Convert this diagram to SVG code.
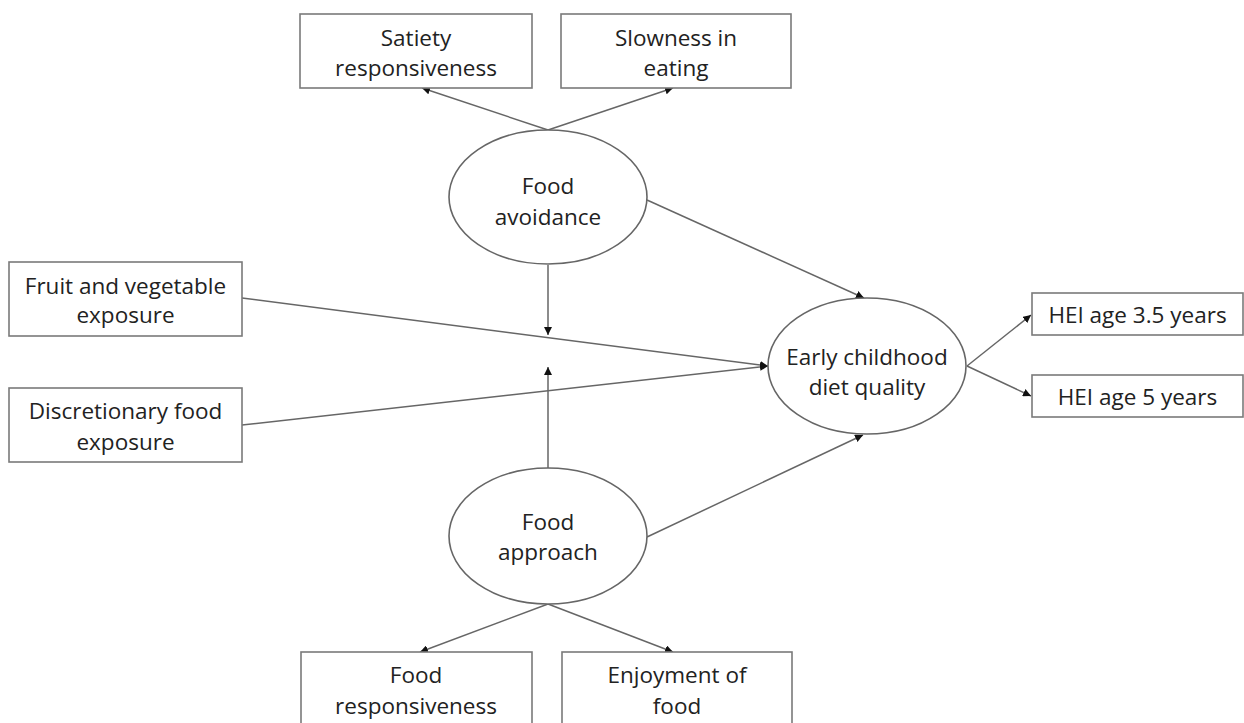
<svg xmlns="http://www.w3.org/2000/svg" width="1244" height="723" viewBox="0 0 1244 723">
<defs>
<style>
.box{fill:#fff;stroke:#7a7a7a;stroke-width:1.6}
.ell{fill:#fff;stroke:#666;stroke-width:1.6}
.t{font-family:"Open Sans","Noto Sans",sans-serif;font-size:22.5px;fill:#222;text-anchor:middle;dominant-baseline:central}
.c{stroke:#666;stroke-width:1.5;fill:none;marker-end:url(#ah)}
</style>
<marker id="ah" viewBox="0 0 10 10" refX="10" refY="5" markerWidth="8" markerHeight="8" markerUnits="userSpaceOnUse" orient="auto">
<path d="M0,0 L10,5 L0,10 Z" fill="#111"/>
</marker>
</defs>
<rect width="1244" height="723" fill="#fff"/>
<g id="connectors">
<line class="c" x1="548" y1="130" x2="422" y2="88"/>
<line class="c" x1="548" y1="130" x2="673" y2="88"/>
<line class="c" x1="647" y1="200" x2="864" y2="298"/>
<line class="c" x1="548" y1="265" x2="548" y2="335"/>
<line class="c" x1="548" y1="468" x2="548" y2="367"/>
<line class="c" x1="242" y1="298" x2="768" y2="366"/>
<line class="c" x1="242" y1="425" x2="768" y2="366"/>
<line class="c" x1="647" y1="537" x2="863" y2="435"/>
<line class="c" x1="967" y1="366" x2="1031" y2="315"/>
<line class="c" x1="967" y1="366" x2="1031" y2="396"/>
<line class="c" x1="548" y1="604" x2="420" y2="652"/>
<line class="c" x1="548" y1="604" x2="673" y2="652"/>
</g>
<g id="satiety"><rect class="box" x="300" y="14" width="232" height="74"/><text class="t" x="416" y="37">Satiety</text><text class="t" x="416" y="67">responsiveness</text></g>
<g id="slowness"><rect class="box" x="561" y="14" width="230" height="74"/><text class="t" x="676" y="37">Slowness in</text><text class="t" x="676" y="67">eating</text></g>
<g id="food-avoidance"><ellipse class="ell" cx="548" cy="197" rx="99" ry="67"/><text class="t" x="548" y="185">Food</text><text class="t" x="548" y="216">avoidance</text></g>
<g id="fruit-veg"><rect class="box" x="9" y="262" width="233" height="74"/><text class="t" x="125.5" y="285">Fruit and vegetable</text><text class="t" x="125.5" y="314">exposure</text></g>
<g id="discretionary"><rect class="box" x="9" y="388" width="233" height="74"/><text class="t" x="125.5" y="410">Discretionary food</text><text class="t" x="125.5" y="441">exposure</text></g>
<g id="diet-quality"><ellipse class="ell" cx="867" cy="366" rx="99" ry="68"/><text class="t" x="867" y="356">Early childhood</text><text class="t" x="867" y="386">diet quality</text></g>
<g id="hei35"><rect class="box" x="1032" y="293" width="211" height="42"/><text class="t" x="1137.5" y="314">HEI age 3.5 years</text></g>
<g id="hei5"><rect class="box" x="1032" y="375" width="211" height="42"/><text class="t" x="1137.5" y="396">HEI age 5 years</text></g>
<g id="food-approach"><ellipse class="ell" cx="548" cy="536" rx="99" ry="68"/><text class="t" x="548" y="521">Food</text><text class="t" x="548" y="551">approach</text></g>
<g id="food-resp"><rect class="box" x="301" y="652" width="231" height="80"/><text class="t" x="416" y="674">Food</text><text class="t" x="416" y="705">responsiveness</text></g>
<g id="enjoyment"><rect class="box" x="562" y="652" width="230" height="80"/><text class="t" x="677" y="674">Enjoyment of</text><text class="t" x="677" y="705">food</text></g>
</svg>
